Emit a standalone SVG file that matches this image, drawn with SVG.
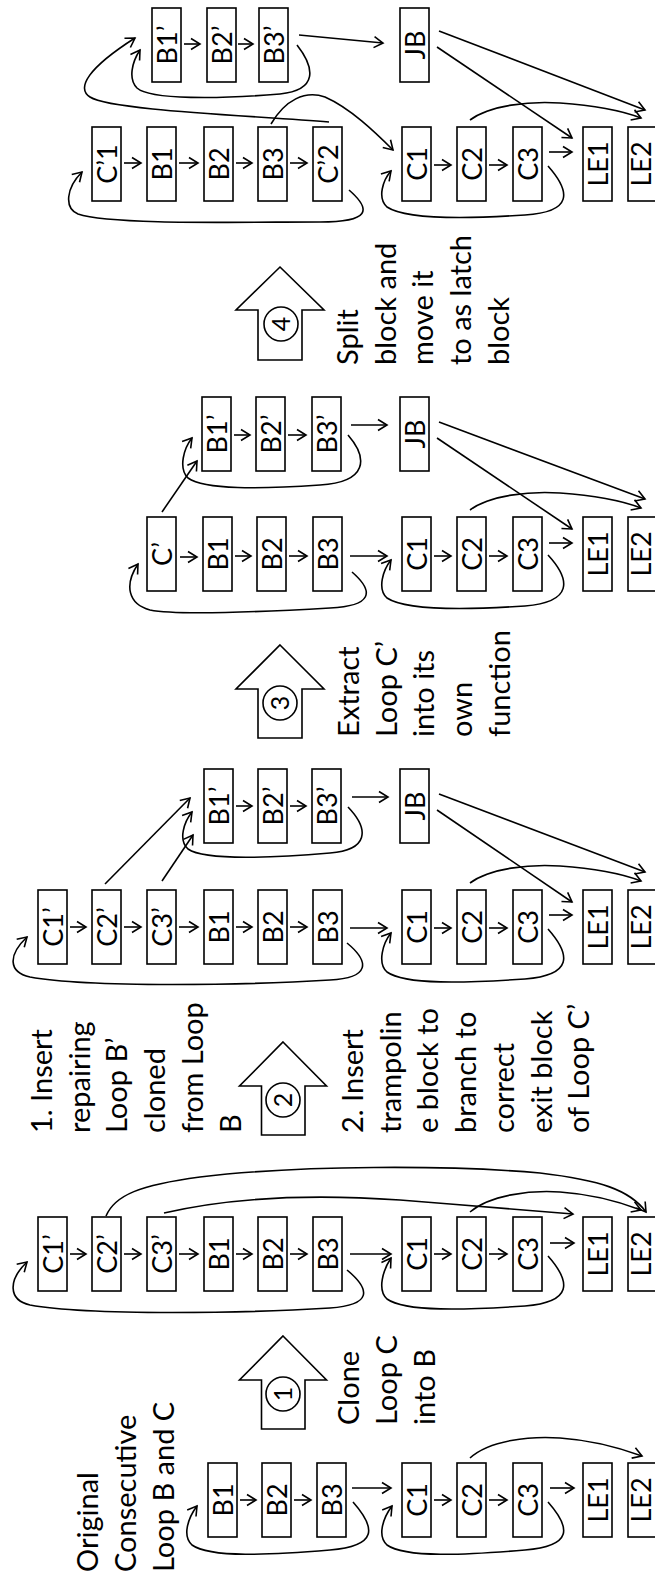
<svg xmlns="http://www.w3.org/2000/svg" width="655" height="1580" viewBox="0 0 655 1580">
<defs>
  <marker id="ah" viewBox="-11 -7 13 14" refX="0" refY="0" markerWidth="13" markerHeight="14" markerUnits="userSpaceOnUse" orient="auto">
    <path d="M-9,-5.5 L0,0 L-9,5.5" fill="none" stroke="#000" stroke-width="1.6"/>
  </marker>
  <style>
    .box{fill:#fff;stroke:#000;stroke-width:1.6}
    .lbl{font-family:Lato,"Liberation Sans",sans-serif;font-size:27px;text-anchor:middle;fill:#000}
    .note{font-family:Lato,"Liberation Sans",sans-serif;font-size:29px;fill:#000}
    .c{fill:none;stroke:#000;stroke-width:1.6;marker-end:url(#ah)}
    .step{fill:#fff;stroke:#000;stroke-width:1.6}
    .num{font-family:Lato,"Liberation Sans",sans-serif;font-size:25px;text-anchor:middle;fill:#000}
  </style>
</defs>
<rect width="655" height="1580" fill="#fff"/>

<!-- ===== Stage 1: original loops ===== -->
<g id="s1-B1"><rect class="box" x="208" y="1463" width="29" height="74"/><text class="lbl" transform="translate(222.5,1500) rotate(-90)" y="10">B1</text></g>
<g id="s1-B2"><rect class="box" x="262" y="1463" width="29" height="74"/><text class="lbl" transform="translate(276.5,1500) rotate(-90)" y="10">B2</text></g>
<g id="s1-B3"><rect class="box" x="317" y="1463" width="29" height="74"/><text class="lbl" transform="translate(331.5,1500) rotate(-90)" y="10">B3</text></g>
<g id="s1-C1"><rect class="box" x="402" y="1463" width="29" height="74"/><text class="lbl" transform="translate(416.5,1500) rotate(-90)" y="10">C1</text></g>
<g id="s1-C2"><rect class="box" x="457" y="1463" width="29" height="74"/><text class="lbl" transform="translate(471.5,1500) rotate(-90)" y="10">C2</text></g>
<g id="s1-C3"><rect class="box" x="513" y="1463" width="29" height="74"/><text class="lbl" transform="translate(527.5,1500) rotate(-90)" y="10">C3</text></g>
<g id="s1-LE1"><rect class="box" x="583" y="1463" width="29" height="74"/><text class="lbl" transform="translate(597.5,1500) rotate(-90)" y="10">LE1</text></g>
<g id="s1-LE2"><rect class="box" x="628" y="1463" width="29" height="74"/><text class="lbl" transform="translate(641,1500) rotate(-90)" y="10">LE2</text></g>

<!-- ===== Stage 2: loop C cloned into B ===== -->
<g id="s2-C1p"><rect class="box" x="38" y="1217" width="29" height="74"/><text class="lbl" transform="translate(52.5,1254) rotate(-90)" y="10">C1’</text></g>
<g id="s2-C2p"><rect class="box" x="92" y="1217" width="29" height="74"/><text class="lbl" transform="translate(106.5,1254) rotate(-90)" y="10">C2’</text></g>
<g id="s2-C3p"><rect class="box" x="147" y="1217" width="29" height="74"/><text class="lbl" transform="translate(161.5,1254) rotate(-90)" y="10">C3’</text></g>
<g id="s2-B1"><rect class="box" x="204" y="1217" width="29" height="74"/><text class="lbl" transform="translate(218.5,1254) rotate(-90)" y="10">B1</text></g>
<g id="s2-B2"><rect class="box" x="258" y="1217" width="29" height="74"/><text class="lbl" transform="translate(272.5,1254) rotate(-90)" y="10">B2</text></g>
<g id="s2-B3"><rect class="box" x="313" y="1217" width="29" height="74"/><text class="lbl" transform="translate(327.5,1254) rotate(-90)" y="10">B3</text></g>
<g id="s2-C1"><rect class="box" x="402" y="1217" width="29" height="74"/><text class="lbl" transform="translate(416.5,1254) rotate(-90)" y="10">C1</text></g>
<g id="s2-C2"><rect class="box" x="457" y="1217" width="29" height="74"/><text class="lbl" transform="translate(471.5,1254) rotate(-90)" y="10">C2</text></g>
<g id="s2-C3"><rect class="box" x="513" y="1217" width="29" height="74"/><text class="lbl" transform="translate(527.5,1254) rotate(-90)" y="10">C3</text></g>
<g id="s2-LE1"><rect class="box" x="583" y="1217" width="29" height="74"/><text class="lbl" transform="translate(597.5,1254) rotate(-90)" y="10">LE1</text></g>
<g id="s2-LE2"><rect class="box" x="628" y="1217" width="29" height="74"/><text class="lbl" transform="translate(641,1254) rotate(-90)" y="10">LE2</text></g>

<!-- ===== Stage 3: repairing loop B' and trampoline ===== -->
<g id="s3-C1p"><rect class="box" x="38" y="890" width="29" height="74"/><text class="lbl" transform="translate(52.5,927) rotate(-90)" y="10">C1’</text></g>
<g id="s3-C2p"><rect class="box" x="92" y="890" width="29" height="74"/><text class="lbl" transform="translate(106.5,927) rotate(-90)" y="10">C2’</text></g>
<g id="s3-C3p"><rect class="box" x="147" y="890" width="29" height="74"/><text class="lbl" transform="translate(161.5,927) rotate(-90)" y="10">C3’</text></g>
<g id="s3-B1"><rect class="box" x="204" y="890" width="29" height="74"/><text class="lbl" transform="translate(218.5,927) rotate(-90)" y="10">B1</text></g>
<g id="s3-B2"><rect class="box" x="258" y="890" width="29" height="74"/><text class="lbl" transform="translate(272.5,927) rotate(-90)" y="10">B2</text></g>
<g id="s3-B3"><rect class="box" x="313" y="890" width="29" height="74"/><text class="lbl" transform="translate(327.5,927) rotate(-90)" y="10">B3</text></g>
<g id="s3-C1"><rect class="box" x="402" y="890" width="29" height="74"/><text class="lbl" transform="translate(416.5,927) rotate(-90)" y="10">C1</text></g>
<g id="s3-C2"><rect class="box" x="457" y="890" width="29" height="74"/><text class="lbl" transform="translate(471.5,927) rotate(-90)" y="10">C2</text></g>
<g id="s3-C3"><rect class="box" x="513" y="890" width="29" height="74"/><text class="lbl" transform="translate(527.5,927) rotate(-90)" y="10">C3</text></g>
<g id="s3-LE1"><rect class="box" x="583" y="890" width="29" height="74"/><text class="lbl" transform="translate(597.5,927) rotate(-90)" y="10">LE1</text></g>
<g id="s3-LE2"><rect class="box" x="628" y="890" width="29" height="74"/><text class="lbl" transform="translate(641,927) rotate(-90)" y="10">LE2</text></g>
<g id="s3-B1p"><rect class="box" x="204" y="769" width="29" height="74"/><text class="lbl" transform="translate(218.5,806) rotate(-90)" y="10">B1’</text></g>
<g id="s3-B2p"><rect class="box" x="258" y="769" width="29" height="74"/><text class="lbl" transform="translate(272.5,806) rotate(-90)" y="10">B2’</text></g>
<g id="s3-B3p"><rect class="box" x="312" y="769" width="29" height="74"/><text class="lbl" transform="translate(326.5,806) rotate(-90)" y="10">B3’</text></g>
<g id="s3-JB"><rect class="box" x="400" y="769" width="29" height="74"/><text class="lbl" transform="translate(414.5,806) rotate(-90)" y="10">JB</text></g>

<!-- ===== Stage 4: loop C' extracted ===== -->
<g id="s4-Cp"><rect class="box" x="147" y="517" width="29" height="74"/><text class="lbl" transform="translate(161.5,554) rotate(-90)" y="10">C’</text></g>
<g id="s4-B1"><rect class="box" x="203" y="517" width="29" height="74"/><text class="lbl" transform="translate(217.5,554) rotate(-90)" y="10">B1</text></g>
<g id="s4-B2"><rect class="box" x="257" y="517" width="29" height="74"/><text class="lbl" transform="translate(271.5,554) rotate(-90)" y="10">B2</text></g>
<g id="s4-B3"><rect class="box" x="313" y="517" width="29" height="74"/><text class="lbl" transform="translate(327.5,554) rotate(-90)" y="10">B3</text></g>
<g id="s4-C1"><rect class="box" x="402" y="517" width="29" height="74"/><text class="lbl" transform="translate(416.5,554) rotate(-90)" y="10">C1</text></g>
<g id="s4-C2"><rect class="box" x="457" y="517" width="29" height="74"/><text class="lbl" transform="translate(471.5,554) rotate(-90)" y="10">C2</text></g>
<g id="s4-C3"><rect class="box" x="513" y="517" width="29" height="74"/><text class="lbl" transform="translate(527.5,554) rotate(-90)" y="10">C3</text></g>
<g id="s4-LE1"><rect class="box" x="583" y="517" width="29" height="74"/><text class="lbl" transform="translate(597.5,554) rotate(-90)" y="10">LE1</text></g>
<g id="s4-LE2"><rect class="box" x="628" y="517" width="29" height="74"/><text class="lbl" transform="translate(641,554) rotate(-90)" y="10">LE2</text></g>
<g id="s4-B1p"><rect class="box" x="202" y="397" width="29" height="74"/><text class="lbl" transform="translate(216.5,434) rotate(-90)" y="10">B1’</text></g>
<g id="s4-B2p"><rect class="box" x="256" y="397" width="29" height="74"/><text class="lbl" transform="translate(270.5,434) rotate(-90)" y="10">B2’</text></g>
<g id="s4-B3p"><rect class="box" x="312" y="397" width="29" height="74"/><text class="lbl" transform="translate(326.5,434) rotate(-90)" y="10">B3’</text></g>
<g id="s4-JB"><rect class="box" x="400" y="397" width="29" height="74"/><text class="lbl" transform="translate(414.5,434) rotate(-90)" y="10">JB</text></g>

<!-- ===== Stage 5: split block moved to latch ===== -->
<g id="s5-Cp1"><rect class="box" x="92" y="127" width="29" height="74"/><text class="lbl" transform="translate(106.5,164) rotate(-90)" y="10">C’1</text></g>
<g id="s5-B1"><rect class="box" x="147" y="127" width="29" height="74"/><text class="lbl" transform="translate(161.5,164) rotate(-90)" y="10">B1</text></g>
<g id="s5-B2"><rect class="box" x="204" y="127" width="29" height="74"/><text class="lbl" transform="translate(218.5,164) rotate(-90)" y="10">B2</text></g>
<g id="s5-B3"><rect class="box" x="258" y="127" width="29" height="74"/><text class="lbl" transform="translate(272.5,164) rotate(-90)" y="10">B3</text></g>
<g id="s5-Cp2"><rect class="box" x="313" y="127" width="29" height="74"/><text class="lbl" transform="translate(327.5,164) rotate(-90)" y="10">C’2</text></g>
<g id="s5-C1"><rect class="box" x="402" y="127" width="29" height="74"/><text class="lbl" transform="translate(416.5,164) rotate(-90)" y="10">C1</text></g>
<g id="s5-C2"><rect class="box" x="457" y="127" width="29" height="74"/><text class="lbl" transform="translate(471.5,164) rotate(-90)" y="10">C2</text></g>
<g id="s5-C3"><rect class="box" x="513" y="127" width="29" height="74"/><text class="lbl" transform="translate(527.5,164) rotate(-90)" y="10">C3</text></g>
<g id="s5-LE1"><rect class="box" x="583" y="127" width="29" height="74"/><text class="lbl" transform="translate(597.5,164) rotate(-90)" y="10">LE1</text></g>
<g id="s5-LE2"><rect class="box" x="628" y="127" width="29" height="74"/><text class="lbl" transform="translate(641,164) rotate(-90)" y="10">LE2</text></g>
<g id="s5-B1p"><rect class="box" x="152" y="8" width="29" height="74"/><text class="lbl" transform="translate(166.5,45) rotate(-90)" y="10">B1’</text></g>
<g id="s5-B2p"><rect class="box" x="207" y="8" width="29" height="74"/><text class="lbl" transform="translate(221.5,45) rotate(-90)" y="10">B2’</text></g>
<g id="s5-B3p"><rect class="box" x="259" y="8" width="29" height="74"/><text class="lbl" transform="translate(273.5,45) rotate(-90)" y="10">B3’</text></g>
<g id="s5-JB"><rect class="box" x="400" y="8" width="29" height="74"/><text class="lbl" transform="translate(414.5,45) rotate(-90)" y="10">JB</text></g>

<!-- ===== Connectors ===== -->
<g id="connectors">
  <!-- stage 1 -->
  <path class="c" d="M240,1500 H256"/>
  <path class="c" d="M294,1500 H311"/>
  <path class="c" d="M352,1488 H391"/>
  <path class="c" d="M434,1500 H451"/>
  <path class="c" d="M489,1500 H507"/>
  <path class="c" d="M550,1488 H574"/>
  <path class="c" d="M353,1502 C376,1528 378,1546 330,1550 C270,1555 210,1558 192,1545 C182,1536 188,1518 197,1506"/>
  <path class="c" d="M548,1502 C571,1528 573,1546 525,1550 C465,1555 405,1558 387,1545 C377,1536 383,1518 392,1506"/>
  <path class="c" d="M470,1458 C490,1440 530,1436 560,1438 C590,1440 620,1448 642,1456"/>

  <!-- stage 2 -->
  <path class="c" d="M70,1254 H86"/>
  <path class="c" d="M124,1254 H141"/>
  <path class="c" d="M179,1254 H198"/>
  <path class="c" d="M236,1254 H252"/>
  <path class="c" d="M290,1254 H307"/>
  <path class="c" d="M350,1254 H391"/>
  <path class="c" d="M434,1254 H451"/>
  <path class="c" d="M489,1254 H507"/>
  <path class="c" d="M550,1243 H574"/>
  <path class="c" d="M347,1270 C371,1290 372,1305 330,1308 C250,1313 90,1316 30,1305 C8,1300 8,1280 27,1262"/>
  <path class="c" d="M548,1256 C571,1282 573,1302 525,1306 C465,1310 405,1312 387,1299 C377,1290 383,1270 391,1258"/>
  <path class="c" d="M106,1216 C115,1195 140,1185 200,1177 C300,1165 450,1165 540,1173 C600,1180 630,1190 646,1212"/>
  <path class="c" d="M164,1213 C220,1200 300,1193 400,1200 C460,1205 530,1210 573,1214"/>
  <path class="c" d="M470,1212 C490,1195 530,1190 560,1192 C590,1194 620,1202 641,1210"/>

  <!-- stage 3 -->
  <path class="c" d="M70,927 H86"/>
  <path class="c" d="M124,927 H141"/>
  <path class="c" d="M179,927 H198"/>
  <path class="c" d="M236,927 H252"/>
  <path class="c" d="M290,927 H307"/>
  <path class="c" d="M350,928 H387"/>
  <path class="c" d="M434,928 H451"/>
  <path class="c" d="M489,928 H507"/>
  <path class="c" d="M549,915 H572"/>
  <path class="c" d="M347,943 C370,962 370,978 330,980 C250,985 90,988 30,977 C8,972 8,955 27,937"/>
  <path class="c" d="M548,929 C571,955 573,975 525,979 C465,983 405,985 387,972 C377,963 383,943 391,933"/>
  <path class="c" d="M105,884 L190,798"/>
  <path class="c" d="M162,881 L193,835"/>
  <path class="c" d="M236,806 H252"/>
  <path class="c" d="M290,806 H306"/>
  <path class="c" d="M352,797 H388"/>
  <path class="c" d="M348,807 C370,830 368,850 330,853 C270,858 205,861 188,849 C178,840 184,822 192,812"/>
  <path class="c" d="M439,794 L645,872"/>
  <path class="c" d="M437,810 L572,902"/>
  <path class="c" d="M470,883 C490,868 530,864 560,866 C590,868 620,873 641,881"/>

  <!-- stage 4 -->
  <path class="c" d="M180,557 H197"/>
  <path class="c" d="M235,556 H251"/>
  <path class="c" d="M289,556 H307"/>
  <path class="c" d="M350,556 H387"/>
  <path class="c" d="M434,556 H451"/>
  <path class="c" d="M489,556 H507"/>
  <path class="c" d="M549,543 H572"/>
  <path class="c" d="M352,572 C375,592 372,606 330,608 C260,612 175,615 150,610 C128,604 124,585 138,564"/>
  <path class="c" d="M548,555 C571,580 573,602 525,606 C465,610 405,610 387,598 C377,589 383,570 391,560"/>
  <path class="c" d="M162,512 L197,461"/>
  <path class="c" d="M234,435 H250"/>
  <path class="c" d="M288,435 H306"/>
  <path class="c" d="M351,425 H387"/>
  <path class="c" d="M348,435 C368,458 368,482 320,485 C260,489 205,490 188,478 C178,468 184,448 192,438"/>
  <path class="c" d="M439,422 L645,499"/>
  <path class="c" d="M437,438 L572,529"/>
  <path class="c" d="M470,510 C490,495 530,491 560,493 C590,495 620,500 641,508"/>

  <!-- stage 5 -->
  <path class="c" d="M124,163 H141"/>
  <path class="c" d="M179,163 H198"/>
  <path class="c" d="M236,163 H252"/>
  <path class="c" d="M290,163 H307"/>
  <path class="c" d="M434,165 H451"/>
  <path class="c" d="M489,165 H507"/>
  <path class="c" d="M549,152 H572"/>
  <path class="c" d="M349,190 C372,210 370,222 320,222 C240,222 110,225 78,214 C64,208 66,188 82,172"/>
  <path class="c" d="M548,166 C571,192 573,212 525,215 C465,219 405,219 387,207 C377,198 383,180 391,171"/>
  <path class="c" d="M329,122 C240,115 110,110 90,97 C76,88 88,68 135,38"/>
  <path class="c" d="M184,44 H200"/>
  <path class="c" d="M238,44 H253"/>
  <path class="c" d="M299,35 L383,43"/>
  <path class="c" d="M297,45 C315,68 318,90 280,94 C220,99 150,100 137,88 C128,79 132,62 140,50"/>
  <path class="c" d="M439,31 L645,110"/>
  <path class="c" d="M437,47 L572,138"/>
  <path class="c" d="M470,120 C490,105 530,101 560,103 C590,105 620,110 641,118"/>
  <path class="c" d="M271,124 C285,100 305,90 325,97 C350,108 375,132 393,150"/>
</g>

<!-- ===== Step arrows ===== -->
<g id="step1">
  <path class="step" d="M283,1336 L326.5,1380 L305,1380 L305,1429 L261.5,1429 L261.5,1380 L239.5,1380 Z"/>
  <circle cx="283" cy="1394" r="17" fill="none" stroke="#000" stroke-width="1.6"/>
  <text class="num" transform="translate(283,1394) rotate(-90)" y="9">1</text>
</g>
<g id="step2">
  <path class="step" d="M283,1042 L326.5,1086 L305,1086 L305,1135 L261.5,1135 L261.5,1086 L239.5,1086 Z"/>
  <circle cx="283" cy="1100" r="17" fill="none" stroke="#000" stroke-width="1.6"/>
  <text class="num" transform="translate(283,1100) rotate(-90)" y="9">2</text>
</g>
<g id="step3">
  <path class="step" d="M280,645 L324,689 L302,689 L302,738 L258,738 L258,689 L236,689 Z"/>
  <circle cx="280" cy="703" r="17" fill="none" stroke="#000" stroke-width="1.6"/>
  <text class="num" transform="translate(280,703) rotate(-90)" y="9">3</text>
</g>
<g id="step4">
  <path class="step" d="M280,267 L324,310 L302,310 L302,360 L258,360 L258,310 L236,310 Z"/>
  <circle cx="281" cy="324" r="17" fill="none" stroke="#000" stroke-width="1.6"/>
  <text class="num" transform="translate(281,324) rotate(-90)" y="9">4</text>
</g>

<!-- ===== Notes ===== -->
<text class="note" transform="translate(98,1572) rotate(-90)"><tspan x="0" y="0">Original</tspan><tspan x="0" y="38">Consecutive</tspan><tspan x="0" y="76">Loop B and C</tspan></text>
<text class="note" transform="translate(359,1425) rotate(-90)"><tspan x="0" y="0">Clone</tspan><tspan x="0" y="38">Loop C</tspan><tspan x="0" y="76">into B</tspan></text>
<text class="note" transform="translate(52,1133) rotate(-90)"><tspan x="0" y="0">1. Insert</tspan><tspan x="0" y="37.7">repairing</tspan><tspan x="0" y="75.4">Loop B’</tspan><tspan x="0" y="113.1">cloned</tspan><tspan x="0" y="150.8">from Loop</tspan><tspan x="0" y="188.5">B</tspan></text>
<text class="note" transform="translate(363,1133) rotate(-90)"><tspan x="0" y="0">2. Insert</tspan><tspan x="0" y="37.7">trampolin</tspan><tspan x="0" y="75.4">e block to</tspan><tspan x="0" y="113.1">branch to</tspan><tspan x="0" y="150.8">correct</tspan><tspan x="0" y="188.5">exit block</tspan><tspan x="0" y="226.2">of Loop C’</tspan></text>
<text class="note" transform="translate(359,737) rotate(-90)"><tspan x="0" y="0">Extract</tspan><tspan x="0" y="37.7">Loop C’</tspan><tspan x="0" y="75.4">into its</tspan><tspan x="0" y="113.1">own</tspan><tspan x="0" y="150.8">function</tspan></text>
<text class="note" transform="translate(358,365) rotate(-90)"><tspan x="0" y="0">Split</tspan><tspan x="0" y="37.7">block and</tspan><tspan x="0" y="75.4">move it</tspan><tspan x="0" y="113.1">to as latch</tspan><tspan x="0" y="150.8">block</tspan></text>
</svg>
